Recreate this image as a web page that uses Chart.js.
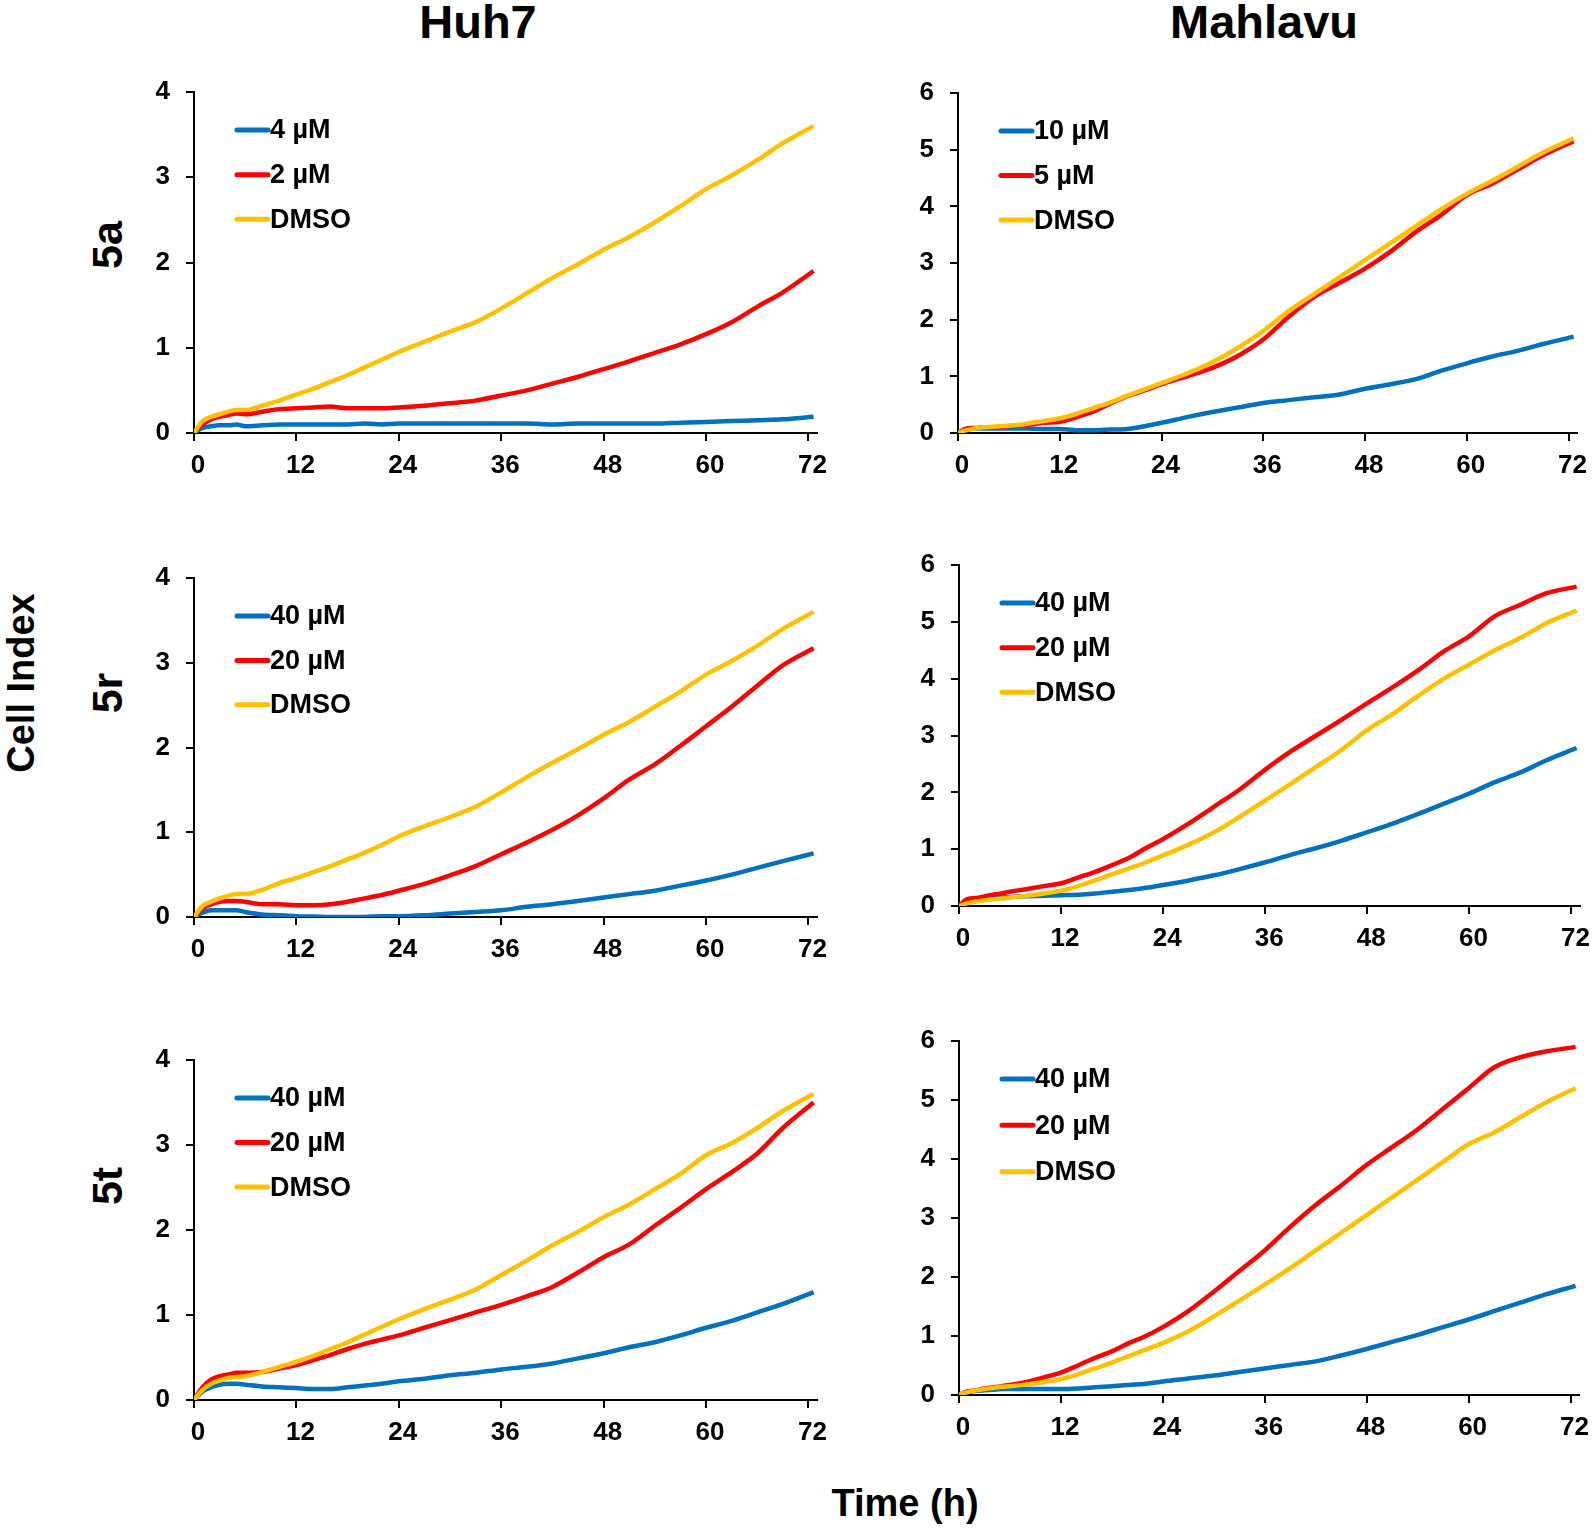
<!DOCTYPE html>
<html>
<head>
<meta charset="utf-8">
<script src="https://cdn.jsdelivr.net/npm/chart.js@4.4.1/dist/chart.umd.min.js"></script>
<style>
  html, body { margin: 0; padding: 0; background: #fff; }
  body { width: 1594px; height: 1532px; position: relative; overflow: hidden;
         font-family: "Liberation Sans", Arial, sans-serif; }
  canvas { position: absolute; }
  .lbl { position: absolute; font-weight: bold; color: #000; line-height: 1; white-space: nowrap;
         transform: translate(-50%, -50%); }
  .rot { transform: translate(-50%, -50%) rotate(-90deg); }
</style>
</head>
<body>
<div class="lbl" style="left:478px; top:21px; font-size:47px;">Huh7</div>
<div class="lbl" style="left:1264px; top:21px; font-size:47px;">Mahlavu</div>
<div class="lbl rot" style="left:107px; top:245px; font-size:43px;">5a</div>
<div class="lbl rot" style="left:107px; top:693px; font-size:43px;">5r</div>
<div class="lbl rot" style="left:107px; top:1186px; font-size:43px;">5t</div>
<div class="lbl rot" style="left:21px; top:683px; font-size:38px;">Cell Index</div>
<div class="lbl" style="left:905px; top:1503px; font-size:38px;">Time (h)</div>

<canvas id="c_a1"></canvas>
<canvas id="c_b1"></canvas>
<canvas id="c_a2"></canvas>
<canvas id="c_b2"></canvas>
<canvas id="c_a3"></canvas>
<canvas id="c_b3"></canvas>

<script>
// ---- data ----
const timeH = [0,1,2,3,4,5,6,8,10,12,14,16,18,20,22,24,27,30,33,36,39,42,45,48,51,54,57,60,63,66,69,72.6];
const xTicks = [0,12,24,36,48,60,72];
const yTicksHuh7 = [0,1,2,3,4];
const yTicksMahlavu = [0,1,2,3,4,5,6];

// Huh7 5a
const huh7_5a_labels = ['4 µM', '2 µM', 'DMSO'];
const huh7_5a_low  = [0,0.06,0.08,0.09,0.09,0.1,0.08,0.09,0.1,0.1,0.1,0.1,0.1,0.11,0.1,0.11,0.11,0.11,0.11,0.11,0.11,0.1,0.11,0.11,0.11,0.11,0.12,0.13,0.14,0.15,0.16,0.19];
const huh7_5a_high = [0,0.1,0.16,0.19,0.21,0.23,0.22,0.25,0.28,0.29,0.3,0.31,0.29,0.29,0.29,0.3,0.32,0.35,0.38,0.44,0.5,0.58,0.66,0.75,0.84,0.94,1.04,1.16,1.3,1.48,1.65,1.9];
const huh7_5a_dmso = [0,0.14,0.19,0.22,0.25,0.27,0.27,0.32,0.38,0.45,0.52,0.6,0.68,0.77,0.86,0.95,1.07,1.19,1.3,1.46,1.64,1.82,1.98,2.15,2.3,2.47,2.66,2.86,3.02,3.2,3.4,3.6];

// Mahlavu 5a
const mah_5a_labels = ['10 µM', '5 µM', 'DMSO'];
const mah_5a_low  = [0,0.06,0.08,0.08,0.08,0.08,0.08,0.08,0.07,0.07,0.05,0.05,0.06,0.07,0.12,0.18,0.28,0.37,0.45,0.53,0.58,0.63,0.68,0.78,0.86,0.95,1.1,1.23,1.35,1.45,1.57,1.7];
const mah_5a_high = [0,0.08,0.09,0.1,0.1,0.11,0.12,0.14,0.18,0.2,0.28,0.38,0.52,0.65,0.75,0.86,1.0,1.15,1.36,1.65,2.05,2.4,2.65,2.9,3.2,3.55,3.85,4.2,4.4,4.65,4.9,5.15];
const mah_5a_dmso = [0,0.05,0.08,0.1,0.11,0.12,0.13,0.16,0.21,0.26,0.34,0.44,0.54,0.66,0.77,0.88,1.05,1.25,1.5,1.8,2.15,2.45,2.75,3.05,3.35,3.65,3.95,4.22,4.45,4.7,4.95,5.2];

// Huh7 5r
const huh7_5r_labels = ['40 µM', '20 µM', 'DMSO'];
const huh7_5r_high = [0,0.05,0.08,0.08,0.08,0.08,0.06,0.03,0.02,0.01,0.005,0,0,0,0.01,0.01,0.02,0.04,0.06,0.08,0.12,0.15,0.19,0.23,0.27,0.31,0.37,0.43,0.5,0.58,0.66,0.75];
const huh7_5r_low  = [0,0.1,0.15,0.18,0.19,0.19,0.18,0.15,0.15,0.14,0.14,0.15,0.18,0.22,0.26,0.31,0.39,0.49,0.6,0.74,0.88,1.03,1.2,1.4,1.62,1.8,2.02,2.25,2.48,2.73,2.97,3.17];
const huh7_5r_dmso = [0,0.13,0.18,0.22,0.25,0.27,0.27,0.32,0.4,0.46,0.53,0.6,0.68,0.76,0.85,0.95,1.07,1.18,1.3,1.47,1.65,1.82,1.98,2.15,2.3,2.48,2.66,2.86,3.02,3.2,3.4,3.6];

// Mahlavu 5r
const mah_5r_labels = ['40 µM', '20 µM', 'DMSO'];
const mah_5r_high = [0,0.07,0.1,0.12,0.14,0.15,0.16,0.17,0.18,0.19,0.2,0.22,0.25,0.28,0.32,0.37,0.45,0.54,0.65,0.77,0.9,1.02,1.15,1.3,1.45,1.62,1.8,1.98,2.18,2.35,2.56,2.78];
const mah_5r_low  = [0,0.12,0.14,0.17,0.2,0.22,0.25,0.3,0.35,0.4,0.5,0.6,0.72,0.85,1.02,1.18,1.45,1.75,2.05,2.4,2.72,3.0,3.28,3.57,3.85,4.15,4.48,4.75,5.1,5.3,5.5,5.62];
const mah_5r_dmso = [0,0.05,0.08,0.1,0.12,0.13,0.15,0.18,0.22,0.27,0.35,0.45,0.56,0.66,0.77,0.89,1.08,1.3,1.57,1.86,2.15,2.45,2.75,3.1,3.38,3.7,4.0,4.25,4.5,4.72,4.97,5.2];

// Huh7 5t
const huh7_5t_labels = ['40 µM', '20 µM', 'DMSO'];
const huh7_5t_high = [0,0.1,0.15,0.18,0.19,0.19,0.18,0.16,0.15,0.14,0.13,0.13,0.15,0.17,0.19,0.22,0.25,0.29,0.32,0.36,0.39,0.43,0.49,0.55,0.62,0.68,0.76,0.85,0.93,1.03,1.13,1.27];
const huh7_5t_low  = [0,0.15,0.24,0.28,0.3,0.32,0.32,0.33,0.37,0.41,0.47,0.53,0.6,0.66,0.71,0.76,0.85,0.94,1.03,1.12,1.22,1.33,1.5,1.68,1.83,2.05,2.26,2.48,2.68,2.9,3.2,3.5];
const huh7_5t_dmso = [0,0.12,0.19,0.23,0.26,0.27,0.28,0.33,0.39,0.45,0.52,0.6,0.68,0.77,0.86,0.95,1.07,1.18,1.3,1.47,1.64,1.82,1.98,2.15,2.3,2.48,2.66,2.88,3.02,3.2,3.4,3.6];

// Mahlavu 5t
const mah_5t_labels = ['40 µM', '20 µM', 'DMSO'];
const mah_5t_high = [0,0.05,0.07,0.08,0.09,0.1,0.1,0.1,0.1,0.1,0.11,0.13,0.15,0.17,0.19,0.23,0.28,0.33,0.39,0.45,0.51,0.57,0.67,0.78,0.9,1.02,1.15,1.28,1.42,1.56,1.7,1.85];
const mah_5t_low  = [0,0.06,0.08,0.11,0.13,0.15,0.17,0.22,0.3,0.38,0.5,0.63,0.74,0.88,1.0,1.15,1.42,1.75,2.1,2.45,2.85,3.22,3.55,3.9,4.2,4.5,4.85,5.2,5.55,5.72,5.82,5.9];
const mah_5t_dmso = [0,0.05,0.08,0.1,0.12,0.14,0.15,0.18,0.22,0.27,0.35,0.45,0.55,0.66,0.77,0.88,1.08,1.33,1.6,1.87,2.15,2.45,2.75,3.05,3.35,3.65,3.95,4.25,4.45,4.7,4.95,5.2];

const colBlue = '#0070C0', colRed = '#FF0000', colYellow = '#FFC000';
const FONT = '"Liberation Sans", Arial, sans-serif';

// ---- layout (chart area in page pixels) ----
const WY = 70, HX = 60, PT = 36, PR = 22;

const legendPlugin = {
  id: 'insideLegend',
  afterDraw(chart) {
    const ctx = chart.ctx, a = chart.chartArea;
    const gap = (a.bottom - a.top) * 0.131;
    ctx.save();
    ctx.font = 'bold 27px ' + FONT;
    ctx.textBaseline = 'middle';
    ctx.textAlign = 'left';
    chart.data.datasets.forEach((d, i) => {
      const y = a.top + 38 + i * gap;
      ctx.strokeStyle = d.borderColor;
      ctx.lineWidth = 5;
      ctx.lineCap = 'round';
      ctx.beginPath();
      ctx.moveTo(a.left + 43, y);
      ctx.lineTo(a.left + 74, y);
      ctx.stroke();
      ctx.fillStyle = '#000';
      ctx.fillText(d.label, a.left + 76, y + 1);
    });
    ctx.restore();
  }
};

function makeChart(id, area, labels, series, yTicks) {
  const cv = document.getElementById(id);
  const left = area.L - WY, top = area.T - PT;
  const w = (area.R - area.L) + WY + PR;
  const h = (area.B - area.T) + PT + HX;
  cv.style.left = left + 'px';
  cv.style.top = top + 'px';
  cv.width = w; cv.height = h;
  cv.style.width = w + 'px'; cv.style.height = h + 'px';
  const colors = [colBlue, colRed, colYellow];
  const datasets = series.map((s, i) => ({
    label: labels[i],
    data: timeH.map((t, k) => ({ x: t, y: s[k] })),
    borderColor: colors[i],
    backgroundColor: colors[i],
    borderWidth: 4.5,
    pointRadius: 0,
    tension: 0.3,
    cubicInterpolationMode: 'monotone',
    fill: false,
    order: 2 - i
  }));
  const yMax = yTicks[yTicks.length - 1];
  new Chart(cv, {
    type: 'line',
    data: { datasets },
    plugins: [legendPlugin],
    options: {
      responsive: false,
      animation: false,
      devicePixelRatio: 1,
      layout: { padding: { top: PT, right: PR, left: 0, bottom: 0 } },
      plugins: { legend: { display: false }, tooltip: { enabled: false } },
      scales: {
        x: {
          type: 'linear', min: 0, max: 73,
          afterBuildTicks: sc => { sc.ticks = xTicks.map(v => ({ value: v })); },
          afterFit: sc => { sc.height = HX; },
          ticks: { color: '#000', font: { family: FONT, size: 26, weight: 'bold' }, padding: 9,
                   labelOffset: 4, maxRotation: 0, autoSkip: false },
          grid: { display: true, drawOnChartArea: false, drawTicks: true, tickLength: 8,
                  color: '#000', lineWidth: 2 },
          border: { display: true, color: '#000', width: 2 }
        },
        y: {
          type: 'linear', min: 0, max: yMax,
          afterBuildTicks: sc => { sc.ticks = yTicks.map(v => ({ value: v })); },
          afterFit: sc => { sc.width = WY; },
          ticks: { color: '#000', font: { family: FONT, size: 26, weight: 'bold' }, padding: 16 },
          grid: { display: true, drawOnChartArea: false, drawTicks: true, tickLength: 8,
                  color: '#000', lineWidth: 2 },
          border: { display: true, color: '#000', width: 2 }
        }
      }
    }
  });
}

makeChart('c_a1', { L: 194, R: 817, T: 92,   B: 433 },  huh7_5a_labels, [huh7_5a_low, huh7_5a_high, huh7_5a_dmso], yTicksHuh7);
makeChart('c_b1', { L: 958, R: 1577, T: 93,  B: 433 },  mah_5a_labels,  [mah_5a_low, mah_5a_high, mah_5a_dmso], yTicksMahlavu);
makeChart('c_a2', { L: 194, R: 817, T: 578,  B: 917 },  huh7_5r_labels, [huh7_5r_high, huh7_5r_low, huh7_5r_dmso], yTicksHuh7);
makeChart('c_b2', { L: 959, R: 1580, T: 565, B: 906 },  mah_5r_labels,  [mah_5r_high, mah_5r_low, mah_5r_dmso], yTicksMahlavu);
makeChart('c_a3', { L: 194, R: 817, T: 1060, B: 1400 }, huh7_5t_labels, [huh7_5t_high, huh7_5t_low, huh7_5t_dmso], yTicksHuh7);
makeChart('c_b3', { L: 959, R: 1579, T: 1041, B: 1395 }, mah_5t_labels, [mah_5t_high, mah_5t_low, mah_5t_dmso], yTicksMahlavu);
</script>
</body>
</html>
